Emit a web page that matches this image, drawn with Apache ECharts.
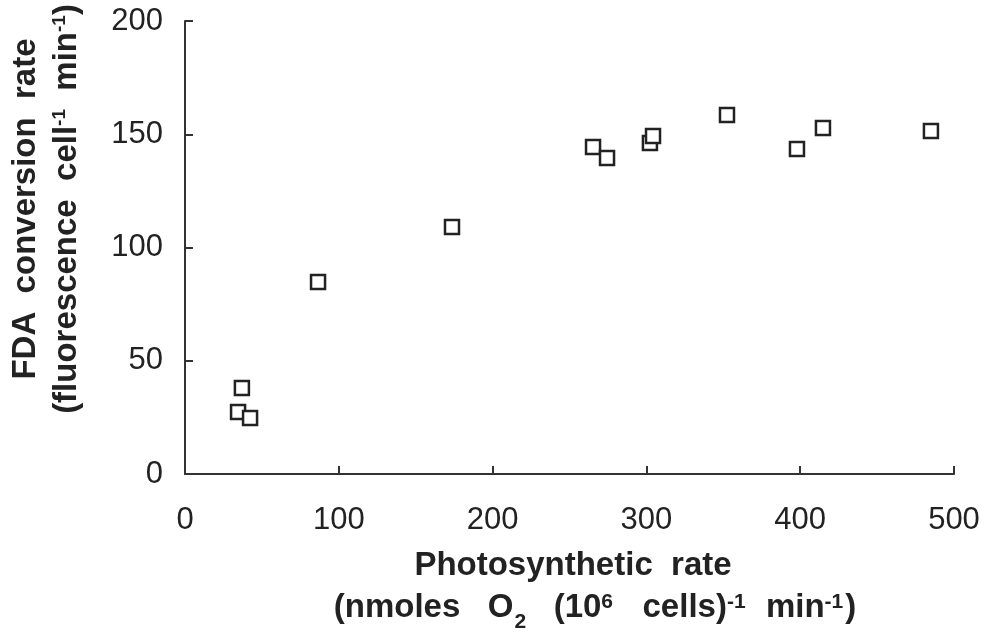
<!DOCTYPE html>
<html>
<head>
<meta charset="utf-8">
<title>FDA conversion vs photosynthetic rate</title>
<script src="https://cdn.jsdelivr.net/npm/echarts@6/dist/echarts.min.js"></script>
<style>
  html, body { margin: 0; padding: 0; background: #fff; }
  #chart { width: 986px; height: 632px; }
</style>
</head>
<body>
<div id="chart"></div>
<script>
// photosynthetic rate (nmoles O2 (10^6 cells)^-1 min^-1)
const photoRate = [37, 34.5, 42.3, 86.5, 173.6, 265.3, 274.4, 302.3, 304.3, 352.4, 397.9, 414.8, 485]
// FDA conversion rate (fluorescence cell^-1 min^-1)
const fdaRate = [38, 27.4, 24.7, 84.8, 109, 144.4, 139.5, 146.1, 149.2, 158.5, 143.5, 152.8, 151.4]

const xTicks = [0, 100, 200, 300, 400, 500]
const yTicks = [0, 50, 100, 150, 200]

const FONT = '"Liberation Sans", Arial, Helvetica, sans-serif'
const ink = '#222'

const chart = echarts.init(document.getElementById('chart'), null, { renderer: 'canvas' })

const points = photoRate.map((x, i) => [x, fdaRate[i]])

chart.setOption({
  animation: false,
  backgroundColor: '#fff',
  grid: {
    left: 185,
    right: 32,
    top: 21,
    bottom: 158
  },
  xAxis: {
    type: 'value',
    min: xTicks[0],
    max: xTicks[xTicks.length - 1],
    interval: 100,
    splitLine: { show: false },
    axisLine: { lineStyle: { color: '#333', width: 2 } },
    axisTick: { inside: true, length: 8, lineStyle: { color: '#333', width: 2 } },
    axisLabel: { color: ink, fontFamily: FONT, fontSize: 31, margin: 31 }
  },
  yAxis: {
    type: 'value',
    min: yTicks[0],
    max: yTicks[yTicks.length - 1],
    interval: 50,
    splitLine: { show: false },
    axisLine: { show: true, lineStyle: { color: '#333', width: 2 } },
    axisTick: { show: true, inside: true, length: 8, lineStyle: { color: '#333', width: 2 } },
    axisLabel: { color: ink, fontFamily: FONT, fontSize: 31, margin: 22 }
  },
  graphic: [
    {
      type: 'text',
      x: 573,
      y: 566,
      style: {
        text: 'Photosynthetic  rate',
        font: 'bold 33px ' + FONT,
        fill: ink,
        textAlign: 'center',
        textVerticalAlign: 'middle'
      }
    },
    {
      type: 'text',
      x: 595,
      y: 608,
      style: {
        text: '(nmoles   O{sub|2}   (10{sup|6}   cells){sup|-1}  min{sup|-1})',
        font: 'bold 33px ' + FONT,
        fill: ink,
        textAlign: 'center',
        textVerticalAlign: 'middle',
        rich: {
          sup: { fontSize: 21, fontWeight: 'bold', fontFamily: FONT, verticalAlign: 'top', padding: [0, 2, 0, 0], fill: ink },
          sub: { fontSize: 21, fontWeight: 'bold', fontFamily: FONT, verticalAlign: 'bottom', padding: [0, 0, -8, 1], fill: ink }
        }
      }
    },
    {
      type: 'text',
      x: 26,
      y: 209,
      rotation: Math.PI / 2,
      style: {
        text: 'FDA  conversion  rate',
        font: 'bold 33px ' + FONT,
        fill: ink,
        textAlign: 'center',
        textVerticalAlign: 'middle'
      }
    },
    {
      type: 'text',
      x: 67,
      y: 209,
      rotation: Math.PI / 2,
      style: {
        text: '(fluorescence  cell{sup|-1}  min{sup|-1})',
        font: 'bold 33px ' + FONT,
        fill: ink,
        textAlign: 'center',
        textVerticalAlign: 'middle',
        rich: {
          sup: { fontSize: 19, fontWeight: 'bold', fontFamily: FONT, verticalAlign: 'top', fill: ink }
        }
      }
    }
  ],
  series: [
    {
      type: 'scatter',
      data: points,
      symbol: 'rect',
      symbolSize: 14,
      itemStyle: {
        color: '#fff',
        borderColor: ink,
        borderWidth: 2.5,
        opacity: 1
      }
    }
  ]
})
</script>
</body>
</html>
